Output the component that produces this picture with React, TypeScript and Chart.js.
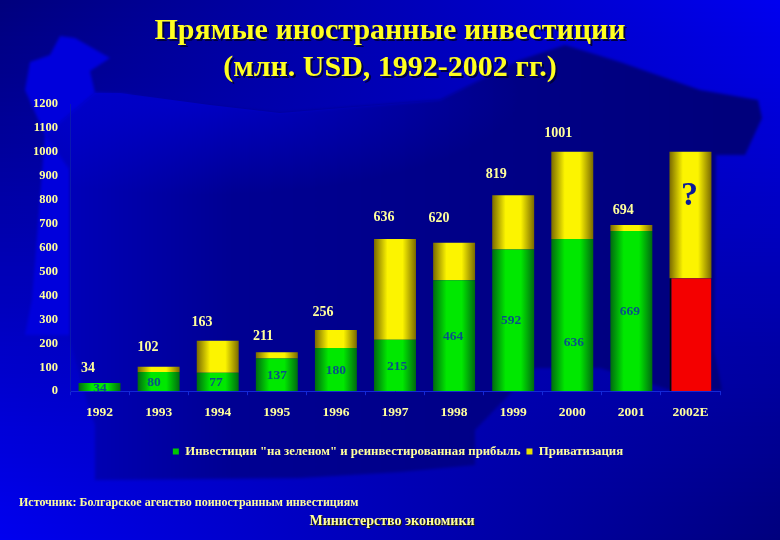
import { useEffect, useRef } from 'react';
import { Chart, registerables } from 'chart.js';
import type { Plugin } from 'chart.js';

Chart.register(...registerables);

const categories = ['1992', '1993', '1994', '1995', '1996', '1997', '1998', '1999', '2000', '2001', '2002E'];
const greenfield = [34, 80, 77, 137, 180, 215, 464, 592, 636, 669, null];
const estimate = [null, null, null, null, null, null, null, null, null, null, 472];
const privatisation = [0, 22, 134, 26, 76, 421, 156, 227, 365, 25, 529];
const totalLabels = ['34', '102', '163', '211', '256', '636', '620', '819', '1001', '694'];
const greenLabels = ['34', '80', '77', '137', '180', '215', '464', '592', '636', '669'];
const yTicks = [0, 100, 200, 300, 400, 500, 600, 700, 800, 900, 1000, 1100, 1200];

const title = ['Прямые иностранные инвестиции', '(млн. USD, 1992-2002 гг.)'];
const source = 'Источник: Болгарское агенство поиностранным инвестициям';
const ministry = 'Министерство экономики';
const legendGreen = 'Инвестиции "на зеленом" и реинвестированная прибыль';
const legendYellow = 'Приватизация';

const serif = '"Liberation Serif", serif';
const paleYellow = '#ffff9c';
const valueBlue = '#0a4f88';

// annotation placement: px shift from the bar centre, and the level on the value axis
const totalShift = [-11.5, -10.6, -15.7, -13.8, -12.9, -11, -15, -17, -14, -8];
const totalLevels = [96, 184, 289, 230, 331, 728, 720, 904, 1079, 757];
const greenShift = [0.5, -4.6, -1.7, 0, 0, 2, -1, -2, 1.7, -1.4];
const greenLevels = [12, 38, 38, 67, 88, 104, 230, 297, 205, 335];

// backdrop shapes, page pixels (decoration, not data)
const mapShape = [
  [120, 93], [210, 105], [280, 113], [440, 100], [520, 60], [565, 45], [620, 62], [700, 90], [758, 100],
  [762, 118], [745, 155], [716, 155], [714, 350], [722, 390], [670, 390], [600, 368], [535, 368], [475, 430],
  [475, 465], [400, 472], [300, 478], [95, 480], [95, 425], [85, 395], [70, 340], [70, 170], [45, 135], [95, 93],
];
const westShape = [
  [25, 90], [30, 62], [50, 55], [60, 36], [75, 38], [110, 58], [90, 71], [95, 93], [130, 95], [70, 170],
  [70, 335], [25, 335], [32, 300], [45, 135],
];

const mix = (a: number[], b: number[], t: number) => a.map((v, i) => Math.round(v + (b[i] - v) * t));
const rgb = (c: number[]) => `rgb(${c[0]},${c[1]},${c[2]})`;

const barGradient = (edge: string, centre: string) => (ctx: any) => {
  const { chart, dataIndex } = ctx;
  const x = chart.scales.x;
  if (!x || dataIndex === undefined) return centre;
  const mid = x.getPixelForValue(dataIndex);
  const g = chart.ctx.createLinearGradient(mid - 21, 0, mid + 21, 0);
  g.addColorStop(0, edge);
  g.addColorStop(0.32, centre);
  g.addColorStop(0.68, centre);
  g.addColorStop(1, edge);
  return g;
};

const tracePolygon = (ctx: CanvasRenderingContext2D, points: number[][]) => {
  ctx.beginPath();
  points.forEach(([x, y], i) => (i ? ctx.lineTo(x, y) : ctx.moveTo(x, y)));
  ctx.closePath();
};

const backdrop: Plugin = {
  id: 'backdrop',
  beforeDraw(chart) {
    const { ctx, width, height } = chart;
    const dark = [0, 0, 125];
    const bright = [0, 0, 240];
    ctx.save();
    for (let y = 0; y < height; y += 2) {
      const t = y / height;
      const g = ctx.createLinearGradient(0, 0, width, 0);
      g.addColorStop(0, rgb(mix(dark, bright, t)));
      g.addColorStop(1, rgb(mix(bright, dark, t)));
      ctx.fillStyle = g;
      ctx.fillRect(0, y, width, 2);
    }
    ctx.filter = 'blur(1.5px)';
    ctx.fillStyle = '#0000dc';
    tracePolygon(ctx, westShape);
    ctx.fill();

    const inner = ctx.createLinearGradient(70, 0, 720, 0);
    inner.addColorStop(0, '#0000b8');
    inner.addColorStop(0.25, '#000092');
    inner.addColorStop(1, '#00007c');
    ctx.fillStyle = inner;
    tracePolygon(ctx, mapShape);
    ctx.fill();
    ctx.filter = 'none';

    // lighter northern band of the map
    tracePolygon(ctx, mapShape);
    ctx.clip();
    ctx.translate(200, 95);
    ctx.scale(1.6, 0.5);
    const glow = ctx.createRadialGradient(0, 0, 0, 0, 0, 200);
    glow.addColorStop(0, 'rgba(0,0,225,0.65)');
    glow.addColorStop(1, 'rgba(0,0,225,0)');
    ctx.fillStyle = glow;
    ctx.fillRect(-200, -200, 400, 400);
    ctx.restore();

    // the layout centres the legend on 0..720, the slide has it 38px further right
    const legend: any = chart.legend;
    legend.left = 76;
    legend.right = 720;
    legend.width = 644;
    legend.adjustHitBoxes();
  },
};

const annotations: Plugin = {
  id: 'annotations',
  afterDraw(chart) {
    const { ctx } = chart;
    const x = chart.scales.x;
    const y = chart.scales.y;
    ctx.save();
    ctx.textBaseline = 'middle';
    ctx.textAlign = 'center';

    ctx.font = `bold 30px ${serif}`;
    title.forEach((line, i) => {
      ctx.fillStyle = '#000040';
      ctx.fillText(line, 392, 33 + i * 37);
      ctx.fillStyle = '#ffff20';
      ctx.fillText(line, 390, 31 + i * 37);
    });

    ctx.font = `bold 14px ${serif}`;
    ctx.fillStyle = paleYellow;
    totalLabels.forEach((label, i) => {
      ctx.fillText(label, x.getPixelForValue(i) + totalShift[i], y.getPixelForValue(totalLevels[i]));
    });
    ctx.font = `bold 13.5px ${serif}`;
    ctx.fillStyle = valueBlue;
    greenLabels.forEach((label, i) => {
      ctx.fillText(label, x.getPixelForValue(i) + greenShift[i], y.getPixelForValue(greenLevels[i]));
    });

    ctx.font = `bold 34px ${serif}`;
    ctx.fillStyle = '#0a1a9a';
    ctx.fillText('?', x.getPixelForValue(10) - 1, y.getPixelForValue(816));

    ctx.textAlign = 'left';
    ctx.font = `bold 12px ${serif}`;
    ctx.fillStyle = paleYellow;
    ctx.fillText(source, 19, 503);
    ctx.textAlign = 'center';
    ctx.font = `bold 14px ${serif}`;
    ctx.fillStyle = '#202000';
    ctx.fillText(ministry, 393, 522);
    ctx.fillStyle = paleYellow;
    ctx.fillText(ministry, 392, 521);
    ctx.restore();
  },
};

export default function App() {
  const canvasRef = useRef<HTMLCanvasElement>(null);

  useEffect(() => {
    if (!canvasRef.current) return;
    const chart = new Chart(canvasRef.current, {
      type: 'bar',
      data: {
        labels: categories,
        datasets: [
          { label: legendGreen, data: greenfield, backgroundColor: barGradient('#006a10', '#00e800') },
          {
            label: 'estimate',
            data: estimate,
            backgroundColor: '#f40000',
            borderColor: '#080808',
            borderWidth: { left: 2, right: 0, top: 0, bottom: 0 },
          },
          { label: legendYellow, data: privatisation, backgroundColor: barGradient('#7a6a00', '#fcf400') },
        ],
      },
      options: {
        animation: false,
        responsive: false,
        devicePixelRatio: 1,
        datasets: { bar: { categoryPercentage: 1, barPercentage: 0.71 } },
        layout: { padding: { top: 104, right: 60, bottom: 72, left: 0 } },
        scales: {
          x: {
            stacked: true,
            afterFit: (s: any) => { s.height = 48; },
            grid: { drawOnChartArea: false, color: '#1428d8', tickLength: 4, offset: true },
            border: { color: '#1428d8' },
            ticks: { color: paleYellow, padding: 9, font: { family: serif, size: 13.5, weight: 'bold' } },
          },
          y: {
            stacked: true,
            min: 0,
            max: 1200,
            afterFit: (s: any) => { s.width = 70; },
            afterBuildTicks: (s: any) => { s.ticks = yTicks.map((value) => ({ value })); },
            grid: { display: false },
            border: { color: '#0a18b0' },
            ticks: {
              color: paleYellow,
              padding: 4,
              font: { family: serif, size: 12.5, weight: 'bold' },
              callback: (v: any) => String(v),
            },
          },
        },
        plugins: {
          title: { display: false },
          tooltip: { enabled: false },
          legend: {
            position: 'bottom',
            labels: {
              color: paleYellow,
              font: { family: serif, size: 12.8, weight: 'bold' },
              boxWidth: 6,
              boxHeight: 6,
              padding: 6,
              filter: (item: any) => item.text !== 'estimate',
              generateLabels: (c: any) =>
                c.data.datasets.map((d: any, i: number) => ({
                  text: d.label,
                  fillStyle: i === 0 ? '#00c800' : '#e8e000',
                  strokeStyle: 'transparent',
                  lineWidth: 0,
                  fontColor: paleYellow,
                  datasetIndex: i,
                })),
            },
          },
        },
      },
      plugins: [backdrop, annotations],
    });
    return () => chart.destroy();
  }, []);

  return (
    <div style={{ position: 'absolute', left: 0, top: 0, width: 780, height: 540 }}>
      <canvas ref={canvasRef} width={780} height={540} />
    </div>
  );
}
